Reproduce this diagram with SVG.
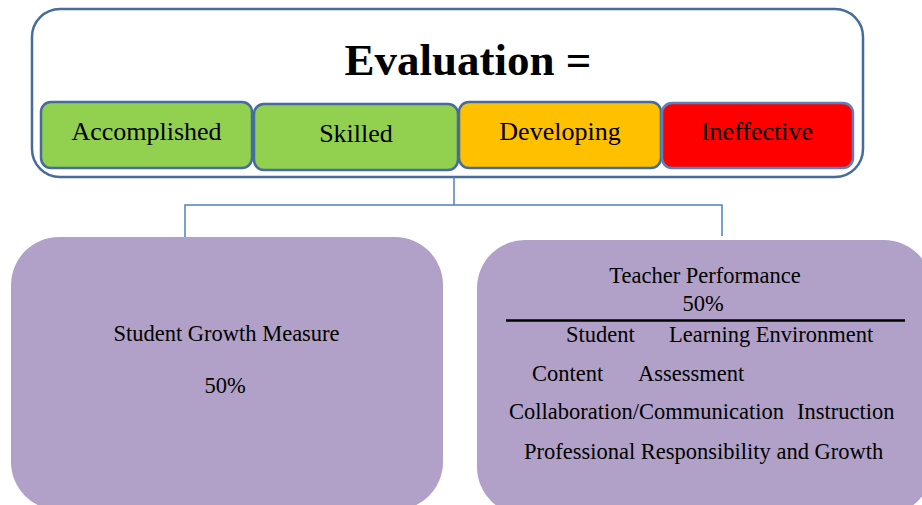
<svg xmlns="http://www.w3.org/2000/svg" width="922" height="505" viewBox="0 0 922 505">
<style>
text{font-family:"Liberation Serif","Times New Roman",serif;fill:#000}
.lvl{stroke:#466c9e;stroke-width:2.5}
.lbl{font-size:26px;text-anchor:middle}
.pur{fill:#b1a0c7;stroke:none}
.t{font-size:22.5px}
.c{text-anchor:middle}
.conn{fill:none;stroke:#4f81bd;stroke-width:1.5}
</style>
<rect width="922" height="505" fill="#fff"/>
<g id="evaluation">
<rect x="32" y="9" width="831" height="168" rx="28" fill="#fff" stroke="#466c9e" stroke-width="2.5"/>
<text x="468" y="75" font-size="45" font-weight="bold" text-anchor="middle">Evaluation =</text>
</g>
<g id="accomplished">
<rect class="lvl" x="41" y="102" width="211" height="66" rx="10" fill="#92d050"/>
<text class="lbl" x="146.5" y="140">Accomplished</text>
</g>
<g id="skilled">
<rect class="lvl" x="254" y="104" width="204" height="66" rx="10" fill="#92d050"/>
<text class="lbl" x="356" y="142">Skilled</text>
</g>
<g id="developing">
<rect class="lvl" x="459" y="102" width="202" height="66" rx="10" fill="#ffc000"/>
<text class="lbl" x="560" y="140">Developing</text>
</g>
<g id="ineffective">
<rect x="662" y="103" width="191" height="65" rx="10" fill="#ff0000" stroke="#5a82ba" stroke-width="2.5"/>
<text class="lbl" x="757" y="140">Ineffective</text>
</g>
<g id="connectors">
<path class="conn" d="M454 177V205M185 237V205H722V236"/>
</g>
<g id="student-growth">
<rect class="pur" x="11" y="237" width="432" height="273" rx="48"/>
<text class="t c" x="226.5" y="341">Student Growth Measure</text>
<text class="t c" x="225" y="393">50%</text>
</g>
<g id="teacher-performance">
<rect class="pur" x="477" y="240" width="455" height="275" rx="48"/>
<text class="t c" x="705" y="283">Teacher Performance</text>
<text class="t c" x="703" y="311">50%</text>
<line x1="506" y1="320.5" x2="905" y2="320.5" stroke="#000" stroke-width="2.5"/>
<text class="t" x="566" y="342">Student</text>
<text class="t" x="669" y="342">Learning Environment</text>
<text class="t" x="532" y="381">Content</text>
<text class="t" x="638" y="381">Assessment</text>
<text class="t" x="509" y="419">Collaboration/Communication</text>
<text class="t" x="797" y="419">Instruction</text>
<text class="t" x="524" y="459">Professional Responsibility and Growth</text>
</g>
</svg>
